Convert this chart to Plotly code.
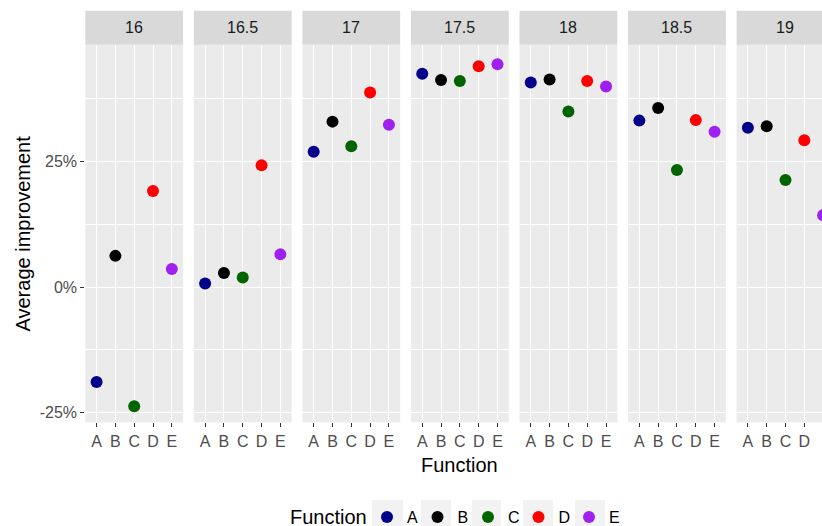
import plotly.graph_objects as go

# ---- data ----
panels = ["16", "16.5", "17", "17.5", "18", "18.5", "19"]
functions = ["A", "B", "C", "D", "E"]
values_A = [-0.189, 0.007, 0.269, 0.424, 0.407, 0.331, 0.317]
values_B = [0.062, 0.028, 0.329, 0.412, 0.413, 0.356, 0.320]
values_C = [-0.237, 0.019, 0.280, 0.410, 0.349, 0.233, 0.213]
values_D = [0.191, 0.242, 0.387, 0.439, 0.410, 0.332, 0.292]
values_E = [0.036, 0.065, 0.323, 0.443, 0.399, 0.309, 0.143]
series = {"A": values_A, "B": values_B, "C": values_C, "D": values_D, "E": values_E}
colors = {"A": "#00008B", "B": "#000000", "C": "#006400", "D": "#FF0000", "E": "#A020F0"}
y_tickvals = [-0.25, 0.0, 0.25]
y_ticktext = ["-25%", "0%", "25%"]
y_minor = [-0.125, 0.125, 0.375]

# ---- layout geometry (pixels) ----
W, H = 822, 526
left0, step, pw = 85.3, 108.55, 97.8
top, bottom = 44.7, 422.3
strip_top = 10.7
FONT = "Liberation Sans"

fig = go.Figure()
layout = dict(
    width=W, height=H, margin=dict(l=0, r=0, t=0, b=0, autoexpand=False),
    paper_bgcolor="white", plot_bgcolor="#EBEBEB",
    font=dict(family=FONT, color="#4D4D4D", size=16),
    showlegend=True,
)
shapes = []
annotations = []
ydom = [1 - bottom / H, 1 - top / H]

for i, p in enumerate(panels):
    xl = left0 + step * i
    xr = xl + pw
    units_per_px = 5.2 / pw
    rng_hi = 4.6
    if xr > W:
        rng_hi = -0.6 + (W - xl) * units_per_px
        xr_d = W
    else:
        xr_d = xr
    ax = "" if i == 0 else str(i + 1)
    layout["xaxis" + ax] = dict(
        domain=[xl / W, xr_d / W], anchor="y" + ax,
        type="category", categoryorder="array", categoryarray=functions,
        tickmode="array", tickvals=functions, ticktext=functions,
        range=[-0.6, rng_hi], showgrid=True, gridcolor="white", gridwidth=1.4,
        zeroline=False, showline=False, ticks="outside", ticklen=4,
        tickcolor="#333333", tickwidth=1.1, tickfont=dict(size=16, color="#4D4D4D"),
        fixedrange=True, automargin=False,
    )
    layout["yaxis" + ax] = dict(
        domain=ydom, anchor="x" + ax, range=[-0.269, 0.482],
        tickmode="array", tickvals=y_tickvals, ticktext=y_ticktext,
        showgrid=True, gridcolor="white", gridwidth=1.4, zeroline=False,
        showline=False, ticks="outside" if i == 0 else "", ticklen=4,
        tickcolor="#333333", tickwidth=1.1, showticklabels=(i == 0),
        tickfont=dict(size=16, color="#4D4D4D"),
        minor=dict(tickvals=y_minor, showgrid=True, gridcolor="white", gridwidth=0.7, ticks=""),
        fixedrange=True, automargin=False,
    )
    for f in functions:
        fig.add_trace(go.Scatter(
            x=[f], y=[series[f][i]], mode="markers", name=f,
            marker=dict(color=colors[f], size=12),
            xaxis="x" + ax, yaxis="y" + ax, legendgroup=f, showlegend=(i == 0),
            hoverinfo="skip",
        ))
    # strip
    shapes.append(dict(type="rect", xref="paper", yref="paper",
                       x0=xl / W, x1=xr / W, y0=1 - top / H, y1=1 - strip_top / H,
                       fillcolor="#D9D9D9", line=dict(width=0), layer="below"))
    annotations.append(dict(text=p, xref="paper", yref="paper",
                            x=(xl + xr) / 2 / W, y=1 - (top + strip_top) / 2 / H,
                            showarrow=False, font=dict(size=16, color="#1A1A1A"),
                            xanchor="center", yanchor="middle"))

# axis titles
annotations.append(dict(text="Average improvement", xref="paper", yref="paper",
                        x=22 / W, y=1 - (top + bottom) / 2 / H, textangle=-90,
                        showarrow=False, font=dict(size=20, color="black"),
                        xanchor="center", yanchor="middle"))
annotations.append(dict(text="Function", xref="paper", yref="paper",
                        x=(left0 + left0 + step * 6 + pw) / 2 / W, y=1 - 465 / H,
                        showarrow=False, font=dict(size=20, color="black"),
                        xanchor="center", yanchor="middle"))
# legend title
annotations.append(dict(text="Function", xref="paper", yref="paper",
                        x=288 / W, y=1 - 517 / H, showarrow=False,
                        font=dict(size=20, color="black"),
                        xanchor="left", yanchor="middle"))

# legend key backgrounds
for x0, x1 in [(372, 403), (421, 451), (472, 501), (523, 553), (575, 605)]:
    shapes.append(dict(type="rect", xref="paper", yref="paper",
                       x0=x0 / W, x1=x1 / W, y0=-0.02, y1=1 - 500 / H,
                       fillcolor="#F2F2F2", line=dict(width=0), layer="below"))

layout["shapes"] = shapes
layout["annotations"] = annotations
layout["legend"] = dict(
    orientation="h", x=367 / W, xanchor="left", y=1 - 517 / H, yanchor="middle",
    font=dict(size=16, color="black"), bgcolor="rgba(0,0,0,0)",
    entrywidth=5.5, itemwidth=30, tracegroupgap=0,
)
fig.update_layout(**layout)
fig.write_html("out.html", config={"displayModeBar": False},
               post_script="document.body.style.margin='0';document.body.style.overflow='hidden';")
